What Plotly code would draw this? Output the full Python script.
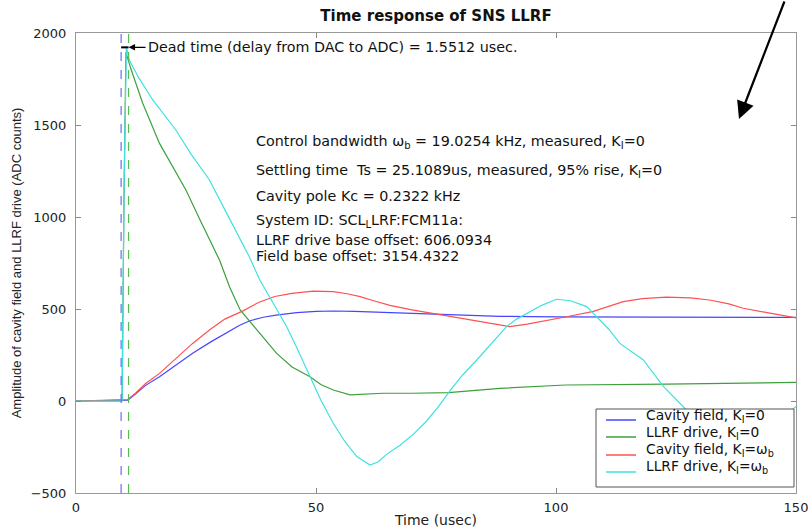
import plotly.graph_objects as go

# ---------------- data ----------------
t_field0 = [0, 10.8, 12.5, 14.5, 17.4, 21, 24.3, 28, 31.25, 34, 36.1, 39, 41.7, 46, 50, 53.6, 58, 64, 70, 77.9, 88.3, 100, 115, 130, 150]
v_field0 = [0, 5, 40, 85, 132, 200, 259, 320, 368, 410, 435, 455, 467, 480, 487, 489, 487, 481, 475, 467, 460, 457, 456, 455, 454]

t_drive0 = [0, 9.6, 10.0, 10.4, 11.5, 13.9, 17.4, 20, 22.9, 26, 29.9, 32, 34.2, 38, 41.8, 45, 48.75, 51, 53.6, 57.1, 60, 64, 70, 77.6, 88.3, 102, 123, 150]
v_drive0 = [0, 0, 1100, 1895, 1800, 1618, 1400, 1280, 1147, 975, 766, 620, 495, 377, 259, 185, 132, 90, 60, 33, 36, 42, 42, 45, 69, 87, 92, 101]

t_fieldw = [0, 10.8, 12.5, 14.5, 17.4, 21, 24.3, 28, 31, 34.8, 38, 41.4, 45, 49.4, 53.6, 56.5, 59.2, 62, 65.4, 70, 74.4, 79, 83.5, 87, 90.4, 94, 98.75, 103, 107.8, 111, 114, 118, 123, 128, 132, 136, 139, 144, 150]
v_fieldw = [0, 8, 45, 95, 150, 235, 313, 390, 445, 490, 535, 568, 585, 597, 594, 583, 567, 545, 520, 495, 476, 452, 436, 420, 404, 418, 440, 462, 487, 515, 540, 556, 564, 561, 549, 528, 504, 480, 452]

t_drivew = [0, 9.6, 10.0, 10.5, 11.1, 13, 16, 20.8, 24, 27.8, 31, 34, 36.1, 38.3, 41, 43.9, 46, 48.75, 51, 53.6, 56, 58.5, 61.25, 63, 64.7, 67.5, 70.3, 73, 75.5, 77.9, 80.5, 83.5, 86.5, 89.7, 91.8, 93.9, 97, 100.1, 103, 106.4, 109.2, 111, 113.3, 118.2, 122.4, 127.2, 132, 137, 142, 146, 150]
v_drivew = [0, 0, 1150, 1925, 1853, 1760, 1636, 1473, 1340, 1201, 1040, 893, 784, 658, 535, 404, 290, 132, 5, -121, -220, -302, -348, -330, -290, -240, -180, -110, -30, 55, 140, 223, 310, 404, 445, 476, 520, 553, 545, 513, 440, 390, 313, 223, 78, -49, -170, -250, -220, -120, -30]

series_names = [
    "Cavity field, K<sub>I</sub>=0",
    "LLRF drive, K<sub>I</sub>=0",
    "Cavity field, K<sub>I</sub>=ω<sub>b</sub>",
    "LLRF drive, K<sub>I</sub>=ω<sub>b</sub>",
]

dac_time = 9.4       # usec
adc_time = 10.95     # usec
dead_level = 1922    # ADC counts

x_ticks = [0, 50, 100, 150]
y_ticks = [-500, 0, 500, 1000, 1500, 2000]

info_lines = [
    "Control bandwidth ω<sub>b</sub> = 19.0254 kHz, measured, K<sub>I</sub>=0",
    "Settling time \u00a0Ts = 25.1089us, measured, 95% rise, K<sub>I</sub>=0",
    "Cavity pole Kc = 0.2322 kHz",
    "System ID: SCL<sub>L</sub>LRF:FCM11a:",
    "LLRF drive base offset: 606.0934",
    "Field base offset: 3154.4322",
]
dead_text = "Dead time (delay from DAC to ADC) = 1.5512 usec."

# ---------------- styling ----------------
colors = ["#4646ff", "#3ca03c", "#ff5050", "#3fe0e0"]
W, H = 809, 530
L, R, T, B = 76, 13, 33, 37
PW, PH = W - L - R, H - T - B
FONT = "DejaVu Sans"


def px_x(px):
    return (px - L) / PW


def px_y(py):
    return (H - B - py) / PH


fig = go.Figure()
for (tt, vv), name, c in zip(
    [(t_field0, v_field0), (t_drive0, v_drive0), (t_fieldw, v_fieldw), (t_drivew, v_drivew)],
    series_names, colors):
    fig.add_trace(go.Scatter(x=tt, y=vv, mode="lines", name=name,
                             line=dict(color=c, width=1.2), showlegend=False))

# dead time marker segment
fig.add_trace(go.Scatter(x=[dac_time, adc_time], y=[dead_level, dead_level], mode="lines",
                         line=dict(color="black", width=2), showlegend=False, hoverinfo="skip"))

# dashed DAC / ADC lines
fig.add_shape(type="line", xref="x", yref="paper", x0=dac_time, x1=dac_time, y0=0, y1=1,
              line=dict(color="#6a6aff", width=1.2, dash="dash"))
fig.add_shape(type="line", xref="x", yref="paper", x0=adc_time, x1=adc_time, y0=0, y1=1,
              line=dict(color="#55bb55", width=1.2, dash="dash"))

annotations = []
# dead time annotation with arrow
annotations.append(dict(x=adc_time, y=dead_level, xref="x", yref="y",
                        ax=14.5, ay=dead_level, axref="x", ayref="y",
                        text=dead_text, xanchor="left", yanchor="middle",
                        showarrow=True, arrowhead=2, arrowsize=1, arrowwidth=1.3,
                        arrowcolor="black", standoff=0,
                        font=dict(family=FONT, size=14.3, color="#111")))

# info lines
info_rows_px = [142, 171, 196, 221, 240, 256]
for txt, ypx in zip(info_lines, info_rows_px):
    annotations.append(dict(x=px_x(254), y=px_y(ypx),
                            xref="paper", yref="paper", text=txt, showarrow=False,
                            xanchor="left", yanchor="middle",
                            font=dict(family=FONT, size=14.3, color="#111")))

# big black arrow at top right
annotations.append(dict(x=px_x(739), y=px_y(119),
                        xref="paper", yref="paper", text="", showarrow=True,
                        ax=46, ay=-124, arrowhead=2, arrowsize=1.6, arrowwidth=2.2,
                        arrowcolor="black", standoff=0))

# hand-laid legend box (MATLAB style)
fig.add_shape(type="rect", xref="paper", yref="paper", layer="above",
              x0=px_x(596), x1=px_x(794), y0=px_y(487), y1=px_y(409),
              fillcolor="white", line=dict(color="#555", width=1))
legend_text_rows = [416, 433, 450, 467]
legend_line_rows = [420, 437, 455, 472]
for name, c, ty, ly in zip(series_names, colors, legend_text_rows, legend_line_rows):
    fig.add_shape(type="line", xref="paper", yref="paper", layer="above",
                  x0=px_x(606), x1=px_x(636), y0=px_y(ly), y1=px_y(ly),
                  line=dict(color=c, width=1.5))
    annotations.append(dict(x=px_x(644), y=px_y(ty), xref="paper", yref="paper",
                            text=name, showarrow=False, xanchor="left", yanchor="middle",
                            font=dict(family=FONT, size=13.8, color="#111")))

fig.update_layout(
    width=W, height=H,
    margin=dict(l=L, r=R, t=T, b=B),
    paper_bgcolor="white", plot_bgcolor="white",
    font=dict(family=FONT, size=13, color="#222"),
    title=dict(text="<b>Time response of SNS LLRF</b>", x=0.5, xref="paper",
               y=1 - 16 / H, yref="container", yanchor="middle", xanchor="center",
               font=dict(family=FONT, size=15, color="#111")),
    showlegend=False,
    annotations=annotations,
)

fig.update_xaxes(range=[0, 150], tickvals=x_ticks, ticks="inside", ticklen=5, tickcolor="#888",
                 showline=True, linecolor="#999", linewidth=1, mirror="ticks",
                 showgrid=False, zeroline=False,
                 title=dict(text="Time (usec)", standoff=1, font=dict(family=FONT, size=14)),
                 automargin=False, ticklabelstandoff=2)
fig.update_yaxes(range=[-500, 2000], tickvals=y_ticks, ticks="inside", ticklen=5, tickcolor="#888",
                 showline=True, linecolor="#999", linewidth=1, mirror="ticks",
                 showgrid=False, zeroline=False,
                 title=dict(text="Amplitude of cavity field and LLRF drive (ADC counts)", standoff=6,
                            font=dict(family="Liberation Sans", size=13)),
                 automargin=False, ticklabelstandoff=6)

fig.write_html("out.html")
